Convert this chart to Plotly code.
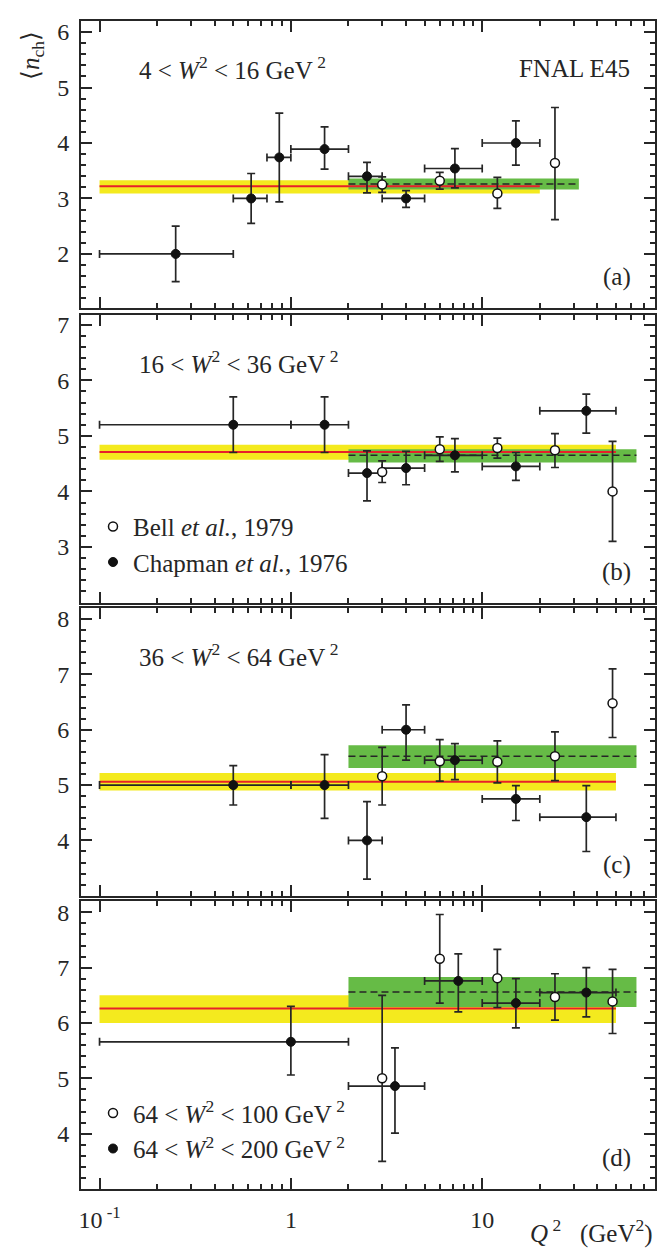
import math
import plotly.graph_objects as go

# ---------------- data ----------------
# Panel (a): 4 < W^2 < 16
a_chap_q2 = [0.25, 0.62, 0.87, 1.5, 2.5, 4.0, 7.2, 15]
a_chap_lo = [0.1, 0.5, 0.75, 1, 2, 3, 5, 10]
a_chap_hi = [0.5, 0.75, 1, 2, 3, 5, 10, 20]
a_chap_n = [2.0, 3.0, 3.74, 3.89, 3.4, 3.0, 3.54, 4.0]
a_chap_up = [0.5, 0.45, 0.8, 0.4, 0.25, 0.14, 0.36, 0.4]
a_chap_dn = [0.5, 0.45, 0.8, 0.36, 0.3, 0.16, 0.35, 0.4]
a_bell_q2 = [3, 6, 12, 24]
a_bell_n = [3.25, 3.32, 3.09, 3.64]
a_bell_up = [0.14, 0.15, 0.29, 1.0]
a_bell_dn = [0.14, 0.15, 0.27, 1.02]
a_yellow = [0.1, 20, 3.09, 3.33, 3.22]   # xmin, xmax, low, high, mean
a_green = [2, 32, 3.16, 3.36, 3.26]

# Panel (b): 16 < W^2 < 36
b_chap_q2 = [0.5, 1.5, 2.5, 4.0, 7.2, 15, 35]
b_chap_lo = [0.1, 1, 2, 3, 5, 10, 20]
b_chap_hi = [1, 2, 3, 5, 10, 20, 50]
b_chap_n = [5.2, 5.2, 4.33, 4.42, 4.65, 4.45, 5.45]
b_chap_up = [0.5, 0.5, 0.4, 0.3, 0.3, 0.25, 0.3]
b_chap_dn = [0.5, 0.5, 0.5, 0.3, 0.3, 0.25, 0.4]
b_bell_q2 = [3, 6, 12, 24, 48]
b_bell_n = [4.35, 4.76, 4.78, 4.74, 4.0]
b_bell_up = [0.2, 0.22, 0.18, 0.3, 0.9]
b_bell_dn = [0.19, 0.22, 0.18, 0.31, 0.9]
b_yellow = [0.1, 50, 4.57, 4.84, 4.71]
b_green = [2, 64, 4.52, 4.76, 4.65]

# Panel (c): 36 < W^2 < 64
c_chap_q2 = [0.5, 1.5, 2.5, 4.0, 7.2, 15, 35]
c_chap_lo = [0.1, 1, 2, 3, 5, 10, 20]
c_chap_hi = [1, 2, 3, 5, 10, 20, 50]
c_chap_n = [5.0, 5.0, 4.0, 6.0, 5.45, 4.75, 4.42]
c_chap_up = [0.35, 0.55, 0.7, 0.45, 0.3, 0.24, 0.57]
c_chap_dn = [0.36, 0.6, 0.7, 0.55, 0.35, 0.39, 0.62]
c_bell_q2 = [3, 6, 12, 24, 48]
c_bell_n = [5.16, 5.43, 5.42, 5.52, 6.48]
c_bell_up = [0.52, 0.39, 0.38, 0.44, 0.62]
c_bell_dn = [0.52, 0.36, 0.38, 0.44, 0.62]
c_yellow = [0.1, 50, 4.90, 5.22, 5.06]
c_green = [2, 64, 5.31, 5.72, 5.52]

# Panel (d): 64 < W^2 < 100 (open) / 64 < W^2 < 200 (filled)
d_chap_q2 = [1.0, 3.5, 7.5, 15, 35]
d_chap_lo = [0.1, 2, 5, 10, 20]
d_chap_hi = [2, 5, 10, 20, 50]
d_chap_n = [5.66, 4.86, 6.76, 6.36, 6.55]
d_chap_up = [0.64, 0.69, 0.49, 0.44, 0.45]
d_chap_dn = [0.6, 0.85, 0.56, 0.45, 0.44]
d_bell_q2 = [3, 6, 12, 24, 48]
d_bell_n = [5.0, 7.16, 6.81, 6.47, 6.39]
d_bell_up = [1.5, 0.8, 0.52, 0.42, 0.58]
d_bell_dn = [1.5, 0.8, 0.53, 0.42, 0.58]
d_yellow = [0.1, 50, 6.0, 6.5, 6.26]
d_green = [2, 64, 6.29, 6.83, 6.56]

# axes
x_range = [0.08, 80]
y_ranges = [[1.02, 6.2], [2.0, 7.18], [3.0, 8.2], [3.0, 8.2]]
y_tickvals = [[2, 3, 4, 5, 6], [3, 4, 5, 6, 7], [4, 5, 6, 7, 8], [4, 5, 6, 7, 8]]
x_tickvals = [0.1, 1, 10]
x_ticktext = ["10<sup> -1</sup>", "1", "10"]
x_minor = [m * d for d in (0.1, 1, 10) for m in range(2, 10)]

range_labels = ["4 < <i>W</i><sup>2</sup> < 16 GeV<sup> 2</sup>",
                "16 < <i>W</i><sup>2</sup> < 36 GeV<sup> 2</sup>",
                "36 < <i>W</i><sup>2</sup> < 64 GeV<sup> 2</sup>"]
panel_tags = ["(a)", "(b)", "(c)", "(d)"]
legend_b = ["Bell <i>et al.</i>, 1979", "Chapman <i>et al.</i>, 1976"]
legend_d = ["64 < <i>W</i><sup>2</sup> < 100 GeV<sup> 2</sup>",
            "64 < <i>W</i><sup>2</sup> < 200 GeV<sup> 2</sup>"]

# ---------------- style ----------------
W, H = 669, 1248
ML, MR, MT, MB = 73, 22, 10, 67
FONT = "Liberation Serif"
FS = 25        # text size
TFS = 24       # tick label size
INK = "#262626"
YELLOW = "#f4ea1e"
GREEN = "#66bb46"
RED = "#e8202a"

plot_w = W - ML - MR
plot_h = H - MT - MB


def px_x(x):
    return (x - ML) / plot_w


def px_y(y):
    return (H - MB - y) / plot_h


panel_px = [(10, 298), (304.5, 593), (598.5, 887), (892.5, 1181)]
domains = [[px_y(b), px_y(t)] for (t, b) in panel_px]

panels = [
    (a_chap_q2, a_chap_lo, a_chap_hi, a_chap_n, a_chap_up, a_chap_dn,
     a_bell_q2, a_bell_n, a_bell_up, a_bell_dn, a_yellow, a_green),
    (b_chap_q2, b_chap_lo, b_chap_hi, b_chap_n, b_chap_up, b_chap_dn,
     b_bell_q2, b_bell_n, b_bell_up, b_bell_dn, b_yellow, b_green),
    (c_chap_q2, c_chap_lo, c_chap_hi, c_chap_n, c_chap_up, c_chap_dn,
     c_bell_q2, c_bell_n, c_bell_up, c_bell_dn, c_yellow, c_green),
    (d_chap_q2, d_chap_lo, d_chap_hi, d_chap_n, d_chap_up, d_chap_dn,
     d_bell_q2, d_bell_n, d_bell_up, d_bell_dn, d_yellow, d_green),
]

fig = go.Figure()

for i, p in enumerate(panels):
    (cq, clo, chi, cn, cup, cdn, bq, bn, bup, bdn, yel, grn) = p
    xa = "x" if i == 0 else f"x{i+1}"
    ya = "y" if i == 0 else f"y{i+1}"
    # yellow band
    fig.add_trace(go.Scatter(
        x=[yel[0], yel[1], yel[1], yel[0], yel[0]],
        y=[yel[2], yel[2], yel[3], yel[3], yel[2]],
        fill="toself", fillcolor=YELLOW, line=dict(width=0), mode="lines",
        hoverinfo="skip", showlegend=False, xaxis=xa, yaxis=ya))
    # green band
    fig.add_trace(go.Scatter(
        x=[grn[0], grn[1], grn[1], grn[0], grn[0]],
        y=[grn[2], grn[2], grn[3], grn[3], grn[2]],
        fill="toself", fillcolor=GREEN, line=dict(width=0), mode="lines",
        hoverinfo="skip", showlegend=False, xaxis=xa, yaxis=ya))
    # red mean line
    fig.add_trace(go.Scatter(
        x=[yel[0], yel[1]], y=[yel[4], yel[4]], mode="lines",
        line=dict(color=RED, width=2), hoverinfo="skip", showlegend=False,
        xaxis=xa, yaxis=ya))
    # dashed mean line
    fig.add_trace(go.Scatter(
        x=[grn[0], grn[1]], y=[grn[4], grn[4]], mode="lines",
        line=dict(color=INK, width=1.5, dash="7px,4px"), hoverinfo="skip",
        showlegend=False, xaxis=xa, yaxis=ya))

    leg = None
    names = [None, None]
    if i == 1:
        leg = "legend"
        names = legend_b
    elif i == 3:
        leg = "legend2"
        names = legend_d

    # Chapman (filled) with x bins
    fig.add_trace(go.Scatter(
        x=cq, y=cn, mode="markers",
        marker=dict(symbol="circle", size=9, color="#111111",
                    line=dict(color="#111111", width=1)),
        error_y=dict(type="data", symmetric=False, array=cup, arrayminus=cdn,
                     color=INK, thickness=1.7, width=4),
        error_x=dict(type="data", symmetric=False,
                     array=[h - q for h, q in zip(chi, cq)],
                     arrayminus=[q - l for q, l in zip(cq, clo)],
                     color=INK, thickness=1.7, width=4),
        name=names[1] if names[1] else "Chapman",
        showlegend=leg is not None, legend=leg if leg else "legend",
        legendrank=2, xaxis=xa, yaxis=ya))
    # Bell (open)
    fig.add_trace(go.Scatter(
        x=bq, y=bn, mode="markers",
        marker=dict(symbol="circle", size=9, color="white",
                    line=dict(color="#111111", width=1.5)),
        error_y=dict(type="data", symmetric=False, array=bup, arrayminus=bdn,
                     color=INK, thickness=1.7, width=4),
        name=names[0] if names[0] else "Bell",
        showlegend=leg is not None, legend=leg if leg else "legend",
        legendrank=1, xaxis=xa, yaxis=ya))

layout = dict(
    width=W, height=H,
    margin=dict(l=ML, r=MR, t=MT, b=MB),
    paper_bgcolor="white", plot_bgcolor="white",
    font=dict(family=FONT, size=FS, color=INK),
    showlegend=True,
)

for i in range(4):
    xk = "xaxis" if i == 0 else f"xaxis{i+1}"
    yk = "yaxis" if i == 0 else f"yaxis{i+1}"
    ya = "y" if i == 0 else f"y{i+1}"
    xa = "x" if i == 0 else f"x{i+1}"
    layout[xk] = dict(
        type="log", range=[math.log10(x_range[0]), math.log10(x_range[1])],
        domain=[0, 1], anchor=ya,
        tickmode="array", tickvals=x_tickvals, ticktext=x_ticktext,
        showticklabels=(i == 3),
        ticks="inside", ticklen=11, tickwidth=1.5, tickcolor=INK,
        minor=dict(tickmode="array", tickvals=x_minor, ticks="inside",
                   ticklen=5, tickwidth=1.5, tickcolor=INK, showgrid=False),
        showline=True, linewidth=2, linecolor=INK, mirror="ticks",
        showgrid=False, zeroline=False, ticklabelstandoff=8,
        tickfont=dict(family=FONT, size=TFS, color=INK),
    )
    if i > 0:
        layout[xk]["matches"] = "x"
    layout[yk] = dict(
        range=y_ranges[i], domain=domains[i], anchor=xa,
        tickmode="array", tickvals=y_tickvals[i],
        ticks="inside", ticklen=11, tickwidth=1.5, tickcolor=INK,
        minor=dict(dtick=0.2, tick0=0, ticks="inside", ticklen=5,
                   tickwidth=1.5, tickcolor=INK, showgrid=False),
        showline=True, linewidth=2, linecolor=INK, mirror="ticks",
        showgrid=False, zeroline=False, ticklabelstandoff=5,
        tickfont=dict(family=FONT, size=TFS, color=INK),
    )

layout["legend"] = dict(
    x=px_x(85), y=px_y(494), xanchor="left", yanchor="top",
    bgcolor="rgba(0,0,0,0)", borderwidth=0,
    font=dict(family=FONT, size=FS, color=INK),
    traceorder="normal", itemsizing="trace",
)
layout["legend2"] = dict(
    x=px_x(85), y=px_y(1082), xanchor="left", yanchor="top",
    bgcolor="rgba(0,0,0,0)", borderwidth=0,
    font=dict(family=FONT, size=FS, color=INK),
    traceorder="normal", itemsizing="trace",
)

ann = []
# y-axis title
ann.append(dict(text="⟨<i>n</i><sub>ch</sub>⟩", x=px_x(25), y=px_y(44),
                xref="paper", yref="paper", showarrow=False, textangle=-90,
                xanchor="center", yanchor="middle",
                font=dict(family=FONT, size=FS, color=INK)))
# range labels
for i, txt in enumerate(range_labels):
    top = panel_px[i][0]
    ann.append(dict(text=txt, x=px_x(129), y=px_y(top + 47), xref="paper",
                    yref="paper", showarrow=False, xanchor="left",
                    yanchor="middle",
                    font=dict(family=FONT, size=FS, color=INK)))
ann.append(dict(text="FNAL E45", x=px_x(624), y=px_y(58), xref="paper",
                yref="paper", showarrow=False, xanchor="right",
                yanchor="middle", font=dict(family=FONT, size=FS, color=INK)))
# panel tags
for i, tag in enumerate(panel_tags):
    bot = panel_px[i][1]
    ann.append(dict(text=tag, x=px_x(625), y=px_y(bot - 31), xref="paper",
                    yref="paper", showarrow=False, xanchor="right",
                    yanchor="middle",
                    font=dict(family=FONT, size=FS, color=INK)))
# x-axis title
ann.append(dict(text="<i>Q</i><sup> 2</sup>   (GeV<sup>2</sup>)",
                x=px_x(647), y=px_y(1224), xref="paper", yref="paper",
                showarrow=False, xanchor="right", yanchor="middle",
                font=dict(family=FONT, size=FS, color=INK)))
layout["annotations"] = ann

fig.update_layout(**layout)
fig.write_html("out.html")
